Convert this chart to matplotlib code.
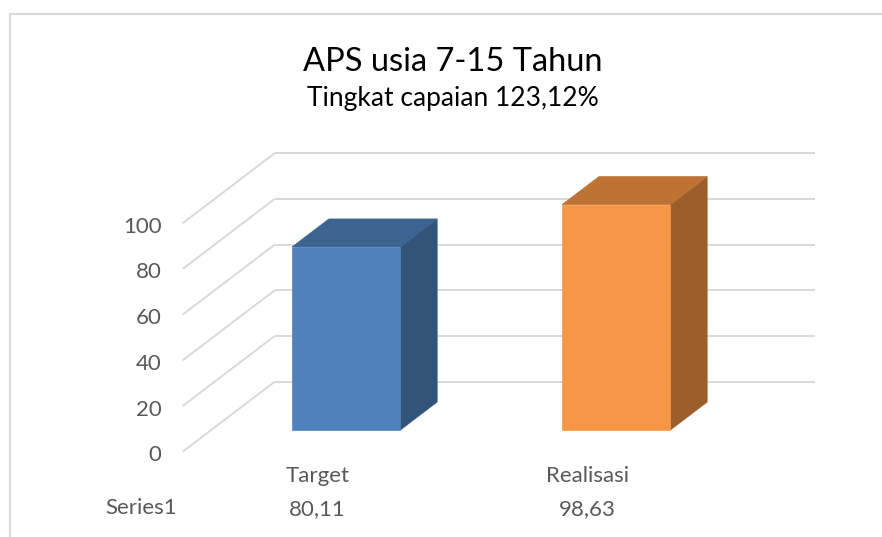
import matplotlib
matplotlib.use('Agg')
import matplotlib.pyplot as plt
from matplotlib.patches import Polygon
from matplotlib.lines import Line2D
import matplotlib.transforms as mtransforms

# ---- data ----
categories = ['Target', 'Realisasi']
values = [80.11, 98.63]
value_labels = ['80,11', '98,63']
series_name = 'Series1'
y_ticks = [0, 20, 40, 60, 80, 100]
title = 'APS usia 7-15 Tahun'
subtitle = 'Tingkat capaian 123,12%'

# ---- styles ----
front_colors = ['#4F81BD', '#F79646']
top_colors = ['#3D6391', '#BE7234']
side_colors = ['#33547A', '#9C5E2A']
grid_color = '#D9D9D9'
text_color = '#595959'
plt.rcParams['font.family'] = ['Lato', 'DejaVu Sans']

W, H = 882, 537
fig = plt.figure(figsize=(W / 100, H / 100), dpi=100)
ax = fig.add_axes([0, 0, 1, 1])
ax.axis('off')

# plot-area mapping (front floor edge origin)
x0_px, y0_px = 182.7, 451.7
px_per_cat = 270.0
px_per_val = 2.285
ax.set_xlim(-x0_px / px_per_cat, (W - x0_px) / px_per_cat)
ax.set_ylim(-(H - y0_px) / px_per_val, y0_px / px_per_val)

DX = 92.0 / px_per_cat
DY = 70.0 / px_per_val
ncat = len(categories)


def proj(x, y, d):
    return (x + d * DX, y + d * DY)


# gridlines: floor diagonals + back wall
for v in y_ticks:
    ax.plot([0, DX], [v, v + DY], color=grid_color, lw=1.4, solid_capstyle='butt', zorder=1)
    ax.plot([DX, ncat + DX], [v + DY, v + DY], color=grid_color, lw=1.4,
            solid_capstyle='butt', zorder=1)

# tick labels
tick_tr = mtransforms.offset_copy(ax.transData, fig=fig, x=-21, y=-9.5, units='dots')
for v in y_ticks:
    ax.text(0, v, str(v), transform=tick_tr, ha='right', va='baseline',
            fontsize=16, color=text_color)

# 3D bars
bw = 0.401
d0, d1 = 0.31, 0.71
for i, v in enumerate(values):
    xl = i + 0.5 - bw / 2
    xr = xl + bw
    front = [proj(xl, 0, d0), proj(xr, 0, d0), proj(xr, v, d0), proj(xl, v, d0)]
    top = [proj(xl, v, d0), proj(xr, v, d0), proj(xr, v, d1), proj(xl, v, d1)]
    side = [proj(xr, 0, d0), proj(xr, 0, d1), proj(xr, v, d1), proj(xr, v, d0)]
    for poly, c in ((side, side_colors[i]), (top, top_colors[i]), (front, front_colors[i])):
        ax.add_patch(Polygon(poly, closed=True, facecolor=c, edgecolor=c, lw=0.5, zorder=3))

# category labels and data table
cat_tr = mtransforms.offset_copy(ax.transData, fig=fig, x=0, y=-30, units='dots')
val_tr = mtransforms.offset_copy(ax.transData, fig=fig, x=0, y=-63.3, units='dots')
for i, (c, lab) in enumerate(zip(categories, value_labels)):
    ax.text(i + 0.5, 0, c, transform=cat_tr, ha='center', va='baseline',
            fontsize=16, color=text_color)
    ax.text(i + 0.5, 0, lab, transform=val_tr, ha='center', va='baseline',
            fontsize=16, color=text_color)
fig.text(141.5 / W, 1 - 514 / H, series_name, ha='center', va='baseline',
         fontsize=16, color=text_color)

# titles
fig.text(452.7 / W, 1 - 70.7 / H, title, ha='center', va='baseline',
         fontsize=23.5, color='#000000')
fig.text(452.5 / W, 1 - 106 / H, subtitle, ha='center', va='baseline',
         fontsize=19, color='#000000')

# chart frame (left and top border visible)
fig.add_artist(Line2D([9.5 / W, 9.5 / W], [0, 1 - 14 / H], transform=fig.transFigure,
                      color=grid_color, lw=1.5))
fig.add_artist(Line2D([9.5 / W, 1], [1 - 14 / H, 1 - 14 / H], transform=fig.transFigure,
                      color=grid_color, lw=1.5))

fig.savefig('out.png', dpi=100)
